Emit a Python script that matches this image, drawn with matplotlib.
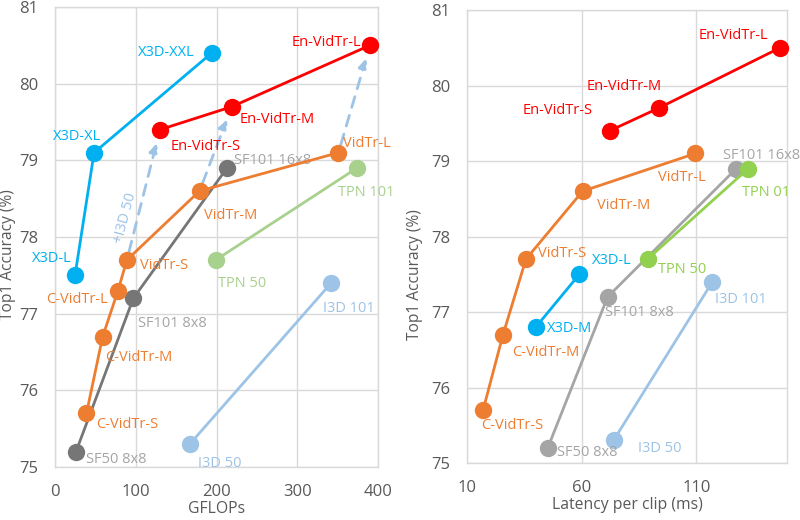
import matplotlib
matplotlib.use("Agg")
import matplotlib.pyplot as plt

plt.rcParams['font.family'] = ['Open Sans', 'DejaVu Sans']

# ---------------------------------------------------------
# Data: left panel (GFLOPs vs Top1)
# ---------------------------------------------------------
x3d_names_l = ["X3D-L", "X3D-XL", "X3D-XXL"]
x3d_gflops = [24.8, 48.4, 194]
x3d_acc_l = [77.5, 79.1, 80.4]

en_names = ["En-VidTr-S", "En-VidTr-M", "En-VidTr-L"]
en_gflops = [130, 219, 390]
en_acc = [79.4, 79.7, 80.5]

vidtr_names_l = ["C-VidTr-S", "C-VidTr-M", "C-VidTr-L", "VidTr-S", "VidTr-M", "VidTr-L"]
vidtr_gflops = [39, 59, 78, 89, 179, 351]
vidtr_acc_l = [75.7, 76.7, 77.3, 77.7, 78.6, 79.1]

sf_names = ["SF50 8x8", "SF101 8x8", "SF101 16x8"]
sf_gflops = [26, 97, 213]
sf_acc = [75.2, 77.2, 78.9]

tpn_names_l = ["TPN 50", "TPN 101"]
tpn_gflops = [199, 374]
tpn_acc = [77.7, 78.9]

i3d_names = ["I3D 50", "I3D 101"]
i3d_gflops = [167, 342]
i3d_acc = [75.3, 77.4]

# arrows: VidTr -> En-VidTr (+I3D 50)
arrow_from = [(89, 77.7), (179, 78.6), (351, 79.1)]
arrow_to = [(130, 79.4), (219, 79.7), (390, 80.5)]

# ---------------------------------------------------------
# Data: right panel (latency vs Top1)
# ---------------------------------------------------------
en_lat = [72.2, 93.5, 146.5]

vidtr_names_r = ["C-VidTr-S", "C-VidTr-M", "VidTr-S", "VidTr-M", "VidTr-L"]
vidtr_lat = [17, 25.7, 35.7, 60.4, 109.6]
vidtr_acc_r = [75.7, 76.7, 77.7, 78.6, 79.1]

x3d_names_r = ["X3D-M", "X3D-L"]
x3d_lat = [40, 59]
x3d_acc_r = [76.8, 77.5]

sf_lat = [45.2, 71.3, 127.4]

tpn_names_r = ["TPN 50", "TPN 01"]
tpn_lat = [88.7, 132.6]

i3d_lat = [73.9, 117]

# ---------------------------------------------------------
# Styles
# ---------------------------------------------------------
C_X3D = "#00B0F0"
C_EN = "#FF0000"
C_VIDTR = "#ED7D31"
C_SF_DARK = "#767676"
C_SF_LIGHT = "#A5A5A5"
C_TPN_L = "#A9D18E"
C_TPN_R = "#92D050"
C_I3D = "#9DC3E6"
GRID = "#D9D9D9"
TICK = "#595959"
FS = 10.5


def series(ax, x, y, names, color, offsets, label_color=None, z=3):
    ax.plot(x, y, color=color, lw=2.0, marker="o", ms=12.5,
            markeredgewidth=0, zorder=z, clip_on=False)
    for xi, yi, name, (dx, dy) in zip(x, y, names, offsets):
        ax.annotate(name, (xi, yi), xytext=(dx, dy), textcoords="offset pixels",
                    ha="center", va="center", fontsize=FS,
                    color=label_color or color, zorder=z + 1,
                    annotation_clip=False)


def style_axes(ax, xlabel, ylab_pos):
    ax.grid(True, color=GRID, lw=1.0, zorder=0)
    for s in ax.spines.values():
        s.set_color(GRID)
        s.set_linewidth(1.0)
    ax.tick_params(length=0, colors=TICK, labelsize=12, pad=12)
    ax.set_ylim(75, 81)
    ax.set_yticks([75, 76, 77, 78, 79, 80, 81])
    ax.set_ylabel("Top1 Accuracy (%)", fontsize=11.2, color=TICK)
    ax.yaxis.set_label_coords(*ylab_pos)
    ax.set_xlabel(xlabel, fontsize=11.3, color=TICK, labelpad=1)


fig = plt.figure(figsize=(8, 5.2), dpi=100)

# left panel
ax1 = fig.add_axes([55 / 800, (520 - 467) / 520, (378 - 55) / 800, (467 - 7) / 520])
style_axes(ax1, "GFLOPs", (-0.121, 0.461))
ax1.set_xlim(0, 400)
ax1.set_xticks([0, 100, 200, 300, 400])

series(ax1, i3d_gflops, i3d_acc, i3d_names, C_I3D, [(30, -19), (18, -25)])
series(ax1, tpn_gflops, tpn_acc, tpn_names_l, C_TPN_L, [(26, -23), (9, -25)])
series(ax1, sf_gflops, sf_acc, sf_names, C_SF_DARK,
       [(40, -8), (39, -25), (46, 7)], label_color=C_SF_LIGHT)
series(ax1, x3d_gflops, x3d_acc_l, x3d_names_l, C_X3D,
       [(-23, 17), (-17, 16), (-45, 0)])
for (x0, y0), (x1, y1) in zip(arrow_from, arrow_to):
    ax1.annotate("", xy=(x1, y1), xytext=(x0, y0), zorder=3,
                 arrowprops=dict(arrowstyle="-|>", color=C_I3D, lw=2.0,
                                 linestyle=(0, (4, 3)), shrinkA=6, shrinkB=10,
                                 mutation_scale=14))
ax1.text(87, 78.25, "+I3D 50", rotation=75, color=C_I3D, fontsize=FS,
         ha="center", va="center")
series(ax1, vidtr_gflops, vidtr_acc_l, vidtr_names_l, C_VIDTR,
       [(41, -11), (36, -21), (-41, -9), (37, -5), (31, -24), (28, 9)], z=4)
series(ax1, en_gflops, en_acc, en_names, C_EN,
       [(46, -17), (45, -13), (-43, 3)], z=5)

# right panel
ax2 = fig.add_axes([467 / 800, (520 - 463) / 520, (787 - 467) / 800, (463 - 10) / 520])
style_axes(ax2, "Latency per clip (ms)", (-0.1375, 0.415))
ax2.set_xlim(10, 149.5)
ax2.set_xticks([10, 60, 110])

series(ax2, i3d_lat, i3d_acc, i3d_names, C_I3D, [(46, -8), (28, -18)])
series(ax2, sf_lat, sf_acc, sf_names, C_SF_LIGHT, [(40, -5), (32, -16), (25, 13)])
series(ax2, tpn_lat, tpn_acc, tpn_names_r, C_TPN_R, [(35, -10), (18, -24)])
series(ax2, x3d_lat, x3d_acc_r, x3d_names_r, C_X3D, [(34, -1), (32, 14)])
series(ax2, vidtr_lat, vidtr_acc_r, vidtr_names_r, C_VIDTR,
       [(29, -15), (43, -18), (36, 6), (41, -14), (-14, -24)], z=4)
series(ax2, en_lat, en_acc, en_names, C_EN, [(-52, 20), (-34, 22), (-47, 12)], z=5)

fig.savefig("out.png", dpi=100)
